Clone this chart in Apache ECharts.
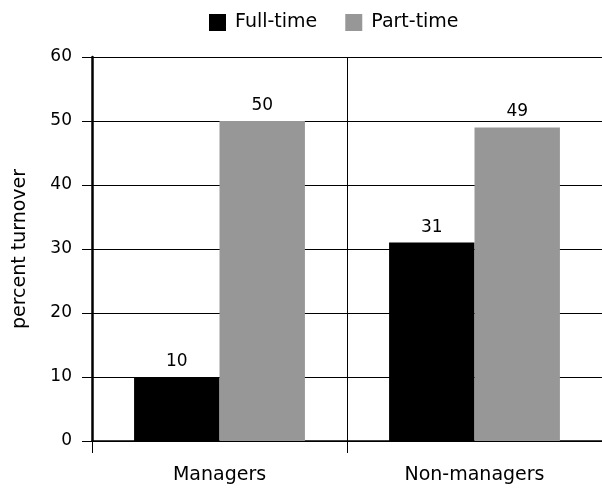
<!DOCTYPE html>
<html><head><meta charset="utf-8">
<script src="https://cdn.jsdelivr.net/npm/echarts@6/dist/echarts.min.js"></script>
<style>html,body{margin:0;padding:0;background:#fff}#c{width:602px;height:496px}</style>
</head><body><div id="c"></div>
<script>
const categories = ["Managers", "Non-managers"];
const fullTime = [10, 31];
const partTime = [50, 49];
const yTicks = [0, 10, 20, 30, 40, 50, 60];

const font = "DejaVu Sans";
const chart = echarts.init(document.getElementById('c'), null, {renderer: 'canvas'});
chart.setOption({
  animation: false,
  backgroundColor: '#fff',
  textStyle: {fontFamily: font, color: '#000'},
  legend: {
    left: 204, top: 8, itemWidth: 17, itemHeight: 17, itemGap: 28, icon: 'rect',
    textStyle: {fontFamily: font, fontSize: 19, color: '#000', padding: [0, 0, 0, 4]},
    data: ['Full-time', 'Part-time']
  },
  grid: {left: 92, top: 57, width: 516, height: 384},
  xAxis: {
    type: 'category', data: categories,
    axisLine: {lineStyle: {color: '#000', width: 1.5}},
    axisTick: {show: true, length: 12, lineStyle: {color: '#000'}},
    axisLabel: {fontFamily: font, fontSize: 19, color: '#000', margin: 25},
    splitLine: {show: true, lineStyle: {color: '#000', width: 1}}
  },
  yAxis: {
    type: 'value', min: 0, max: 60, interval: 10,
    name: 'percent turnover', nameLocation: 'middle', nameGap: 62,
    nameTextStyle: {fontFamily: font, fontSize: 19, color: '#000'},
    axisLine: {show: true, lineStyle: {color: '#000', width: 2.5}},
    axisTick: {show: true, length: 10, lineStyle: {color: '#000'}},
    axisLabel: {fontFamily: font, fontSize: 17, color: '#000', margin: 20,
      formatter: v => yTicks.includes(v) ? String(v) : ''},
    splitLine: {show: true, lineStyle: {color: '#000', width: 1}}
  },
  series: [
    {name: 'Full-time', type: 'bar', data: fullTime, barGap: '0%', barCategoryGap: '33%',
     itemStyle: {color: '#000'},
     label: {show: true, position: 'top', distance: 7, fontFamily: font, fontSize: 17, color: '#000'}},
    {name: 'Part-time', type: 'bar', data: partTime,
     itemStyle: {color: '#979797'},
     label: {show: true, position: 'top', distance: 7, fontFamily: font, fontSize: 17, color: '#000'}}
  ]
});
</script></body></html>
